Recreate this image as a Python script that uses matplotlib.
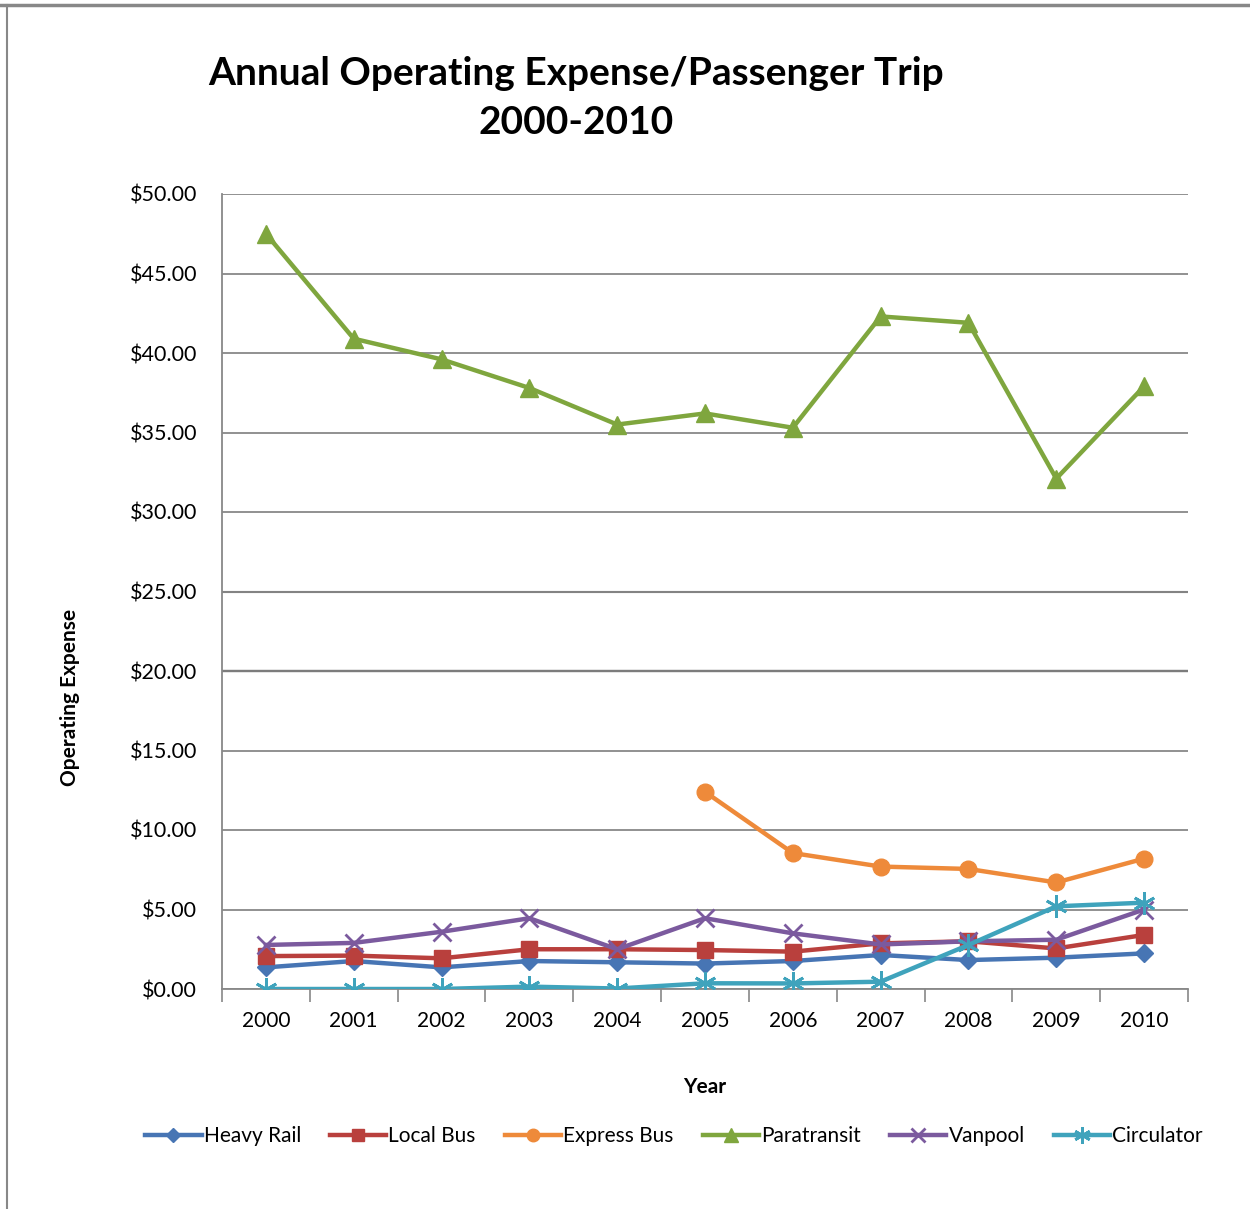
import matplotlib
matplotlib.use("Agg")
import matplotlib.pyplot as plt
from matplotlib.lines import Line2D
from matplotlib.ticker import FuncFormatter, MultipleLocator

years = ["2000", "2001", "2002", "2003", "2004", "2005", "2006", "2007", "2008", "2009", "2010"]
heavy_rail = [1.36, 1.76, 1.36, 1.76, 1.68, 1.60, 1.76, 2.14, 1.82, 1.97, 2.24]
local_bus = [2.07, 2.10, 1.93, 2.50, 2.50, 2.45, 2.35, 2.87, 3.00, 2.55, 3.40]
express_bus = [None, None, None, None, None, 12.40, 8.55, 7.70, 7.55, 6.70, 8.20]
paratransit = [47.5, 40.9, 39.6, 37.8, 35.5, 36.2, 35.3, 42.3, 41.9, 32.1, 37.9]
vanpool = [2.77, 2.90, 3.60, 4.45, 2.50, 4.45, 3.50, 2.80, 3.00, 3.10, 5.00]
circulator = [0.0, 0.0, 0.0, 0.15, 0.03, 0.36, 0.35, 0.46, 2.77, 5.20, 5.43]

series_names = ["Heavy Rail", "Local Bus", "Express Bus", "Paratransit", "Vanpool", "Circulator"]

plt.rcParams['font.family'] = ['Lato', 'DejaVu Sans']

fig = plt.figure(figsize=(12.5, 12.09), dpi=100)
W, H = 1250, 1209
ax = fig.add_axes([222 / W, 1 - 989 / H, (1188 - 222) / W, (989 - 194) / H])

x = list(range(len(years)))

styles = [
    (heavy_rail, "#4775B4", "D", 9),
    (local_bus, "#B9403D", "s", 11),
    (express_bus, "#EE8A3A", "o", 12),
    (paratransit, "#7FA63E", "^", 13),
    (vanpool, "#7B5A9E", "x", 13),
    (circulator, "#3FA3BC", (6, 2, 0), 16),
]

handles = []
for (vals, col, mk, ms), name in zip(styles, series_names):
    xs = [xi for xi, v in zip(x, vals) if v is not None]
    ys = [v for v in vals if v is not None]
    mew = 2 if mk == "x" or isinstance(mk, tuple) else 1
    ln, = ax.plot(xs, ys, color=col, lw=3.2, marker=mk, markersize=ms,
                  markeredgewidth=mew, markeredgecolor=col, markerfacecolor=col,
                  label=name, zorder=3)
    handles.append(ln)

ax.set_xlim(-0.5, len(years) - 0.5)
ax.set_ylim(0, 50)
ax.yaxis.set_major_locator(MultipleLocator(5))
ax.yaxis.set_major_formatter(FuncFormatter(lambda v, p: f"${v:.2f}"))
ax.set_xticks(x)
ax.set_xticklabels(years)
ax.set_xticks([i - 0.5 for i in range(len(years) + 1)], minor=True)
ax.tick_params(axis='x', which='major', length=0, pad=16, labelsize=15)
ax.tick_params(axis='x', which='minor', length=9, color='#888888', width=1.2, direction='out')
ax.tick_params(axis='y', length=0, pad=18, labelsize=15.5)

ax.grid(axis='y', color='#888888', lw=1.3, zorder=0)
ax.axhline(20, color='#111111', lw=1.6, zorder=1)
ax.axhline(25, color='#555555', lw=1.5, zorder=1)
for s in ['top', 'right']:
    ax.spines[s].set_visible(False)
for s in ['left', 'bottom']:
    ax.spines[s].set_color('#888888')
    ax.spines[s].set_linewidth(1.3)

ax.set_xlabel("Year", fontsize=15, fontweight='bold', labelpad=33)
fig.text(70 / W, 1 - 697 / H, "Operating Expense", rotation=90, fontsize=15,
         fontweight='bold', ha='center', va='center')

fig.text(576 / W, 1 - 98 / H, "Annual Operating Expense/Passenger Trip\n2000-2010",
         ha='center', va='center', fontsize=28, fontweight='bold', linespacing=1.45)

leg = fig.legend(handles=handles, loc='center', bbox_to_anchor=(674 / W, 1 - 1136 / H),
                 ncol=6, frameon=False, fontsize=15, handlelength=2.7,
                 columnspacing=1.4, handletextpad=0.1, markerscale=0.75)

# page border lines
fig.add_artist(Line2D([0, 1], [1 - 5 / H, 1 - 5 / H], color='#888888', lw=2.5))
fig.add_artist(Line2D([7 / W, 7 / W], [0, 1 - 5 / H], color='#888888', lw=1.5))

fig.savefig("out.png", dpi=100)
